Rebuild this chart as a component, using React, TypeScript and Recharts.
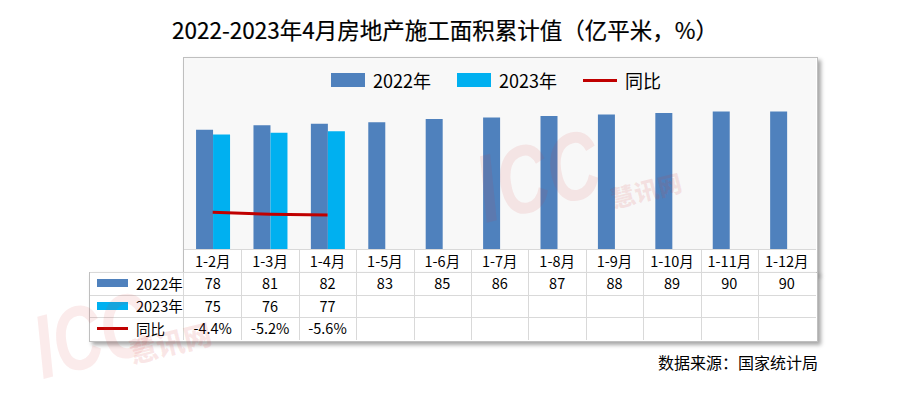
import React from 'react';
import { ComposedChart, Bar, Line, XAxis, YAxis } from 'recharts';

// 1-N月 cumulative floor space under construction (亿平米) and YoY (%)
const categories = ['1-2月', '1-3月', '1-4月', '1-5月', '1-6月', '1-7月', '1-8月', '1-9月', '1-10月', '1-11月', '1-12月'];
const area2022 = [78, 81, 82, 83, 85, 86, 87, 88, 89, 90, 90];
const area2023 = [75, 76, 77];
const yoy = [-4.4, -5.2, -5.6];
const seriesNames = ['2022年', '2023年', '同比'];

const C2022 = '#4F81BD';
const C2023 = '#00B0F0';
const CYOY = '#C00000';

const W = 900;
const H = 401;
const PL = 184;
const PR = 815.5;
const PT = 58;
const PB = 249;
const colW = (PR - PL) / categories.length;
const rowY = [249, 272, 294.5, 317, 339.5];
const FONT = '"Noto Sans CJK SC", "Noto Sans", sans-serif';
const GRID = '#d9d9d9';
const FRAME = '#bfbfbf';

const data = categories.map((name, i) => ({
  name,
  y2022: area2022[i],
  y2023: area2023[i] ?? null,
  yoy: yoy[i] ?? null,
}));

const abs = (s: React.CSSProperties): React.CSSProperties => ({ position: 'absolute', ...s });

const LegendIcon = ({ kind, small }: { kind: number; small?: boolean }) => {
  const w = small ? 31 : 34;
  if (kind === 2) {
    return <div style={{ width: w, height: small ? 2.5 : 3, background: CYOY }} />;
  }
  return <div style={{ width: w, height: small ? 8 : 14, background: kind === 0 ? C2022 : C2023 }} />;
};

const Table = () => {
  const rows: (string | null)[][] = [
    categories,
    categories.map((_, i) => (area2022[i] != null ? String(area2022[i]) : null)),
    categories.map((_, i) => (area2023[i] != null ? String(area2023[i]) : null)),
    categories.map((_, i) => (yoy[i] != null ? `${yoy[i].toFixed(1)}%` : null)),
  ];
  const els: React.ReactNode[] = [];
  // horizontal lines
  for (let r = 1; r < rowY.length - 1; r++) {
    els.push(<div key={'h' + r} style={abs({ left: 90, top: rowY[r], width: PR - 90, height: 1, background: GRID })} />);
  }
  // vertical lines
  for (let i = 1; i < categories.length; i++) {
    els.push(<div key={'v' + i} style={abs({ left: PL + i * colW, top: PB, width: 1, height: rowY[4] - PB, background: GRID })} />);
  }
  els.push(<div key="v0" style={abs({ left: PL - 1, top: rowY[1], width: 1, height: rowY[4] - rowY[1], background: GRID })} />);
  rows.forEach((row, r) =>
    row.forEach((txt, i) => {
      if (txt == null) return;
      els.push(
        <div
          key={`c${r}-${i}`}
          style={abs({
            left: PL + i * colW,
            top: rowY[r],
            width: colW,
            height: rowY[r + 1] - rowY[r],
            lineHeight: `${rowY[r + 1] - rowY[r]}px`,
            textAlign: 'center',
            fontSize: 14.5,
            color: '#000',
          })}
        >
          {txt}
        </div>
      );
    })
  );
  seriesNames.forEach((name, k) => {
    els.push(
      <div
        key={'l' + k}
        style={abs({
          left: 97,
          top: rowY[k + 1],
          height: rowY[k + 2] - rowY[k + 1],
          display: 'flex',
          alignItems: 'center',
          gap: 8,
          fontSize: 14.5,
          color: '#000',
        })}
      >
        <LegendIcon kind={k} small />
        <span>{name}</span>
      </div>
    );
  });
  return <>{els}</>;
};

const wmInk = 'rgba(214,60,60,0.10)';
const Watermark = () => (
  <>
    <div style={abs({ left: 455, top: 128, transform: 'rotate(-14deg) scaleX(0.75)', color: wmInk, fontWeight: 900, fontStyle: 'italic', fontSize: 96, lineHeight: '96px', fontFamily: 'Liberation Sans, sans-serif', pointerEvents: 'none' })}>
      ICC
    </div>
    <div style={abs({ left: 610, top: 172, transform: 'rotate(-14deg)', color: 'rgba(214,60,60,0.12)', fontWeight: 900, fontSize: 24, fontFamily: FONT, pointerEvents: 'none' })}>
      慧讯网
    </div>
    <div style={abs({ left: 14, top: 290, transform: 'rotate(-14deg) scaleX(0.75)', color: wmInk, fontWeight: 900, fontStyle: 'italic', fontSize: 90, lineHeight: '90px', fontFamily: 'Liberation Sans, sans-serif', pointerEvents: 'none' })}>
      ICC
    </div>
    <div style={abs({ left: 128, top: 322, transform: 'rotate(-14deg)', color: 'rgba(214,60,60,0.12)', fontWeight: 900, fontSize: 28, fontFamily: FONT, pointerEvents: 'none' })}>
      慧讯网
    </div>
  </>
);

export default function App() {
  return (
    <div style={abs({ left: 0, top: 0, width: W, height: H, background: '#fff', fontFamily: FONT, overflow: 'hidden' })}>
      {/* title */}
      <div style={abs({ left: 0, top: 13, width: 890, textAlign: 'center', fontSize: 22.5, fontWeight: 'normal', color: '#000', WebkitTextStroke: '0.2px #000' })}>
        2022-2023年4月房地产施工面积累计值（亿平米，%）
      </div>

      {/* frame: plot + category row */}
      <div style={abs({ left: PL - 1, top: PT - 1, width: PR - PL + 1, height: rowY[1] - PT + 1, border: `1px solid ${FRAME}`, background: '#fff', boxShadow: '3px 3px 4px rgba(0,0,0,0.35)' })} />
      <div style={abs({ left: PL, top: PT, width: PR - PL, height: PB - PT, background: '#f8f8f8', borderBottom: `1px solid ${GRID}` })} />
      {/* frame: data rows */}
      <div style={abs({ left: 89, top: rowY[1], width: PR - 89, height: rowY[4] - rowY[1], border: `1px solid ${FRAME}`, background: '#fff', boxShadow: '3px 3px 4px rgba(0,0,0,0.35)' })} />

      <div style={abs({ left: 0, top: 0 })}>
        <ComposedChart
          width={W}
          height={H}
          data={data}
          margin={{ top: PT, right: W - PR, bottom: H - PB, left: PL }}
          barCategoryGap="21%"
          barGap={0}
        >
          <XAxis dataKey="name" hide />
          <YAxis yAxisId="left" type="number" domain={[0, 125]} allowDataOverflow hide />
          <YAxis yAxisId="right" type="number" orientation="right" domain={[-20.7, 64.3]} allowDataOverflow hide />
          <Bar yAxisId="left" dataKey="y2022" name={seriesNames[0]} fill={C2022} isAnimationActive={false} />
          <Bar yAxisId="left" dataKey="y2023" name={seriesNames[1]} fill={C2023} isAnimationActive={false} />
          <Line yAxisId="right" dataKey="yoy" name={seriesNames[2]} stroke={CYOY} strokeWidth={3} dot={false} type="linear" isAnimationActive={false} />
        </ComposedChart>
      </div>

      {/* legend */}
      <div style={abs({ left: 331, top: 66, height: 28, display: 'flex', alignItems: 'center', gap: 26, fontSize: 18, color: '#000' })}>
        {seriesNames.map((n, k) => (
          <div key={n} style={{ display: 'flex', alignItems: 'center', gap: 8 }}>
            <LegendIcon kind={k} />
            <span>{n}</span>
          </div>
        ))}
      </div>

      <Table />

      {/* source */}
      <div style={abs({ left: 600, top: 350, width: 218, textAlign: 'right', fontSize: 16, color: '#000' })}>
        数据来源：国家统计局
      </div>

      <Watermark />
    </div>
  );
}
